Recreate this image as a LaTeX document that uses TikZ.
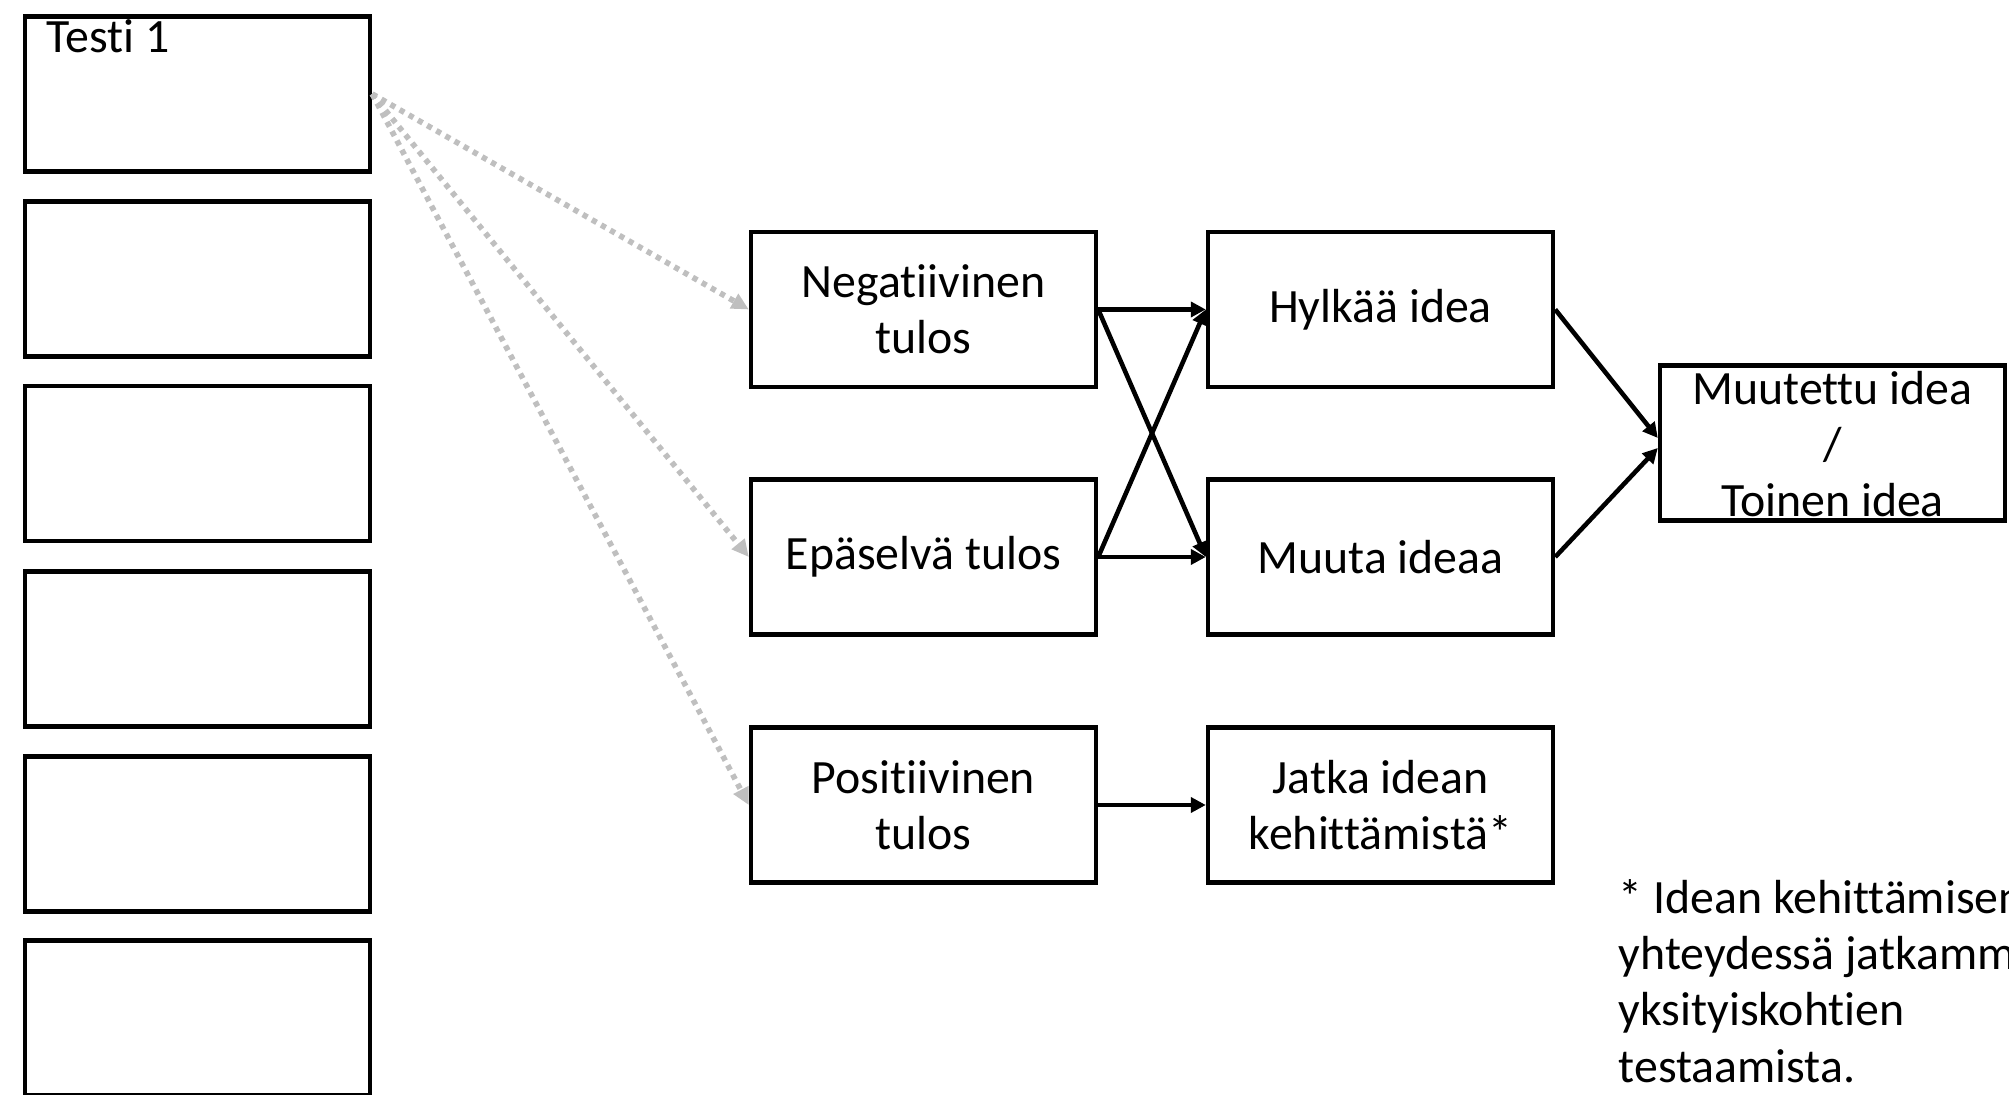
\documentclass[tikz,border=0pt]{standalone}
\usepackage{fontspec}
\setmainfont{Carlito}[Ligatures=NoCommon,RawFeature=-liga]
\usetikzlibrary{arrows.meta}
\begin{document}
\begin{tikzpicture}[x=0.01cm,y=-0.01cm,
  box/.style={draw=black,line width=1.2pt,rectangle,minimum width=3.45cm,minimum height=1.55cm,inner sep=0pt,align=center,font=\fontsize{13.6pt}{16pt}\selectfont},
  blk/.style={line width=1.3pt,-{Triangle[length=0.15cm,width=0.15cm]}},
  gry/.style={draw=gray!50,line width=1.6pt,dash pattern=on 1.5pt off 1.5pt,-{Triangle[length=0.17cm,width=0.16cm,fill=gray!50]}},
  txt/.style={inner sep=0pt,font=\fontsize{13.6pt}{16pt}\selectfont}]
\useasboundingbox (0,0) rectangle (2009,1095);
\clip (0,0) rectangle (2009,1095);
% left column
\node[box] (t1) at (197.5,94) {};
\node[box] (t2) at (197.5,279) {};
\node[box] (t3) at (197.5,463.5) {};
\node[box] (t4) at (197.5,649) {};
\node[box] (t5) at (197.5,834) {};
\node[box] (t6) at (197.5,1018) {};
\node[txt,anchor=base west] (lbl) at (46,53) {Testi 1};
% middle column
\node[box] (neg) at (923.5,309.5) {Negatiivinen\\tulos};
\node[box] (epa) at (923.5,557) {Epäselvä tulos};
\node[box] (pos) at (923.5,805) {Positiivinen\\tulos};
% right column
\node[box] (hyl) at (1380.5,309.5) {Hylkää idea};
\node[box] (muu) at (1380.5,557) {Muuta ideaa};
\node[box] (jat) at (1380.5,805) {Jatka idean\\kehittämistä*};
% far right
\node[box] (mut) at (1832.5,443) {};
\node[txt,align=center,anchor=base] (mutt) at (1832.5,517) {Muutettu idea\\/\\Toinen idea};
% footnote
\node[txt,align=left,anchor=base west] (fn) at (1618,1082) {* Idean kehittämisen\\yhteydessä jatkamme\\yksityiskohtien\\testaamista.};
% grey dotted arrows
\draw[gry] (t1.east) -- (neg.west);
\draw[gry] (t1.east) -- (epa.west);
\draw[gry] (t1.east) -- (pos.west);
% black arrows
\draw[blk] (neg.east) -- (hyl.west);
\draw[blk] (neg.east) -- (muu.west);
\draw[blk] (epa.east) -- (hyl.west);
\draw[blk] (epa.east) -- (muu.west);
\draw[blk] (pos.east) -- (jat.west);
\draw[blk] (hyl.east) -- ([yshift=0.05cm]mut.west);
\draw[blk] (muu.east) -- ([yshift=-0.05cm]mut.west);
\end{tikzpicture}
\end{document}
